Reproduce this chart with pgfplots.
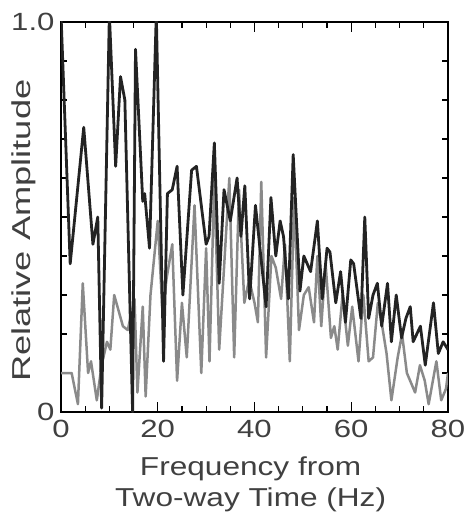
\documentclass[border=0pt]{standalone}
\usepackage{pgfplots}
\pgfplotsset{compat=1.18}
\usepackage{fontspec}
\setmainfont{Liberation Sans}

\definecolor{darkline}{HTML}{232323}
\definecolor{grayline}{HTML}{8A8A8A}
\newcommand{\wide}[1]{\scalebox{1.25}[1]{#1}}

\begin{document}
\begin{tikzpicture}
\begin{axis}[
    at={(0,0)}, anchor=south west,
    scale only axis, width=387bp, height=390bp,
    xmin=0, xmax=80, ymin=0, ymax=1,
    xtick={0,20,...,80},
    xticklabels={\wide{0},\wide{20},\wide{40},\wide{60},\wide{80}},
    minor xtick={5,10,...,75},
    ytick={0,1}, yticklabels={\wide{0},\wide{1.0}},
    minor ytick={0.1,0.2,...,0.9},
    tick align=inside,
    major tick length=10bp, minor tick length=6bp,
    tick style={black, line width=1.2bp},
    axis line style={line width=1.8bp},
    tick label style={font=\fontsize{25}{30}\selectfont, text=black!75},
    xticklabel style={yshift=-5bp},
    yticklabel style={xshift=-3bp},
    xlabel={\scalebox{1.22}[1]{Frequency from}\\\scalebox{1.22}[1]{Two-way Time (Hz)}},
    xlabel style={align=center, font=\fontsize{26}{31}\selectfont, text=black!75,
        at={(axis description cs:0.49,-0.186)}, anchor=center},
    ylabel={\scalebox{1.4}[1]{Relative Amplitude}},
    ylabel style={font=\fontsize{26}{31}\selectfont, text=black!75,
        at={(axis description cs:-0.097,0.465)}, anchor=center},
]

% serie clara (cinza)
\addplot[grayline, line width=2.5bp, line join=round] coordinates {
    (0,0.10) (2.2,0.10) (3.5,0.02) (4.5,0.33) (5.6,0.10) (6.2,0.13)
    (6.8,0.08) (7.4,0.03) (8.4,0.12) (9.5,0.18) (10.2,0.16) (11,0.30)
    (12.8,0.22) (13.8,0.21) (15.2,0.29) (15.8,0.05) (16.9,0.27) (17.5,0.04)
    (18.5,0.30) (20,0.49) (21,0.25) (21.8,0.34) (23,0.43) (24,0.08)
    (25,0.28) (26,0.14) (27.6,0.53) (29,0.10) (30,0.42) (30.7,0.13)
    (31.7,0.60) (32.7,0.16) (34.8,0.60) (35.8,0.14) (36.8,0.57) (37.9,0.28)
    (38.9,0.34) (40,0.28) (40.7,0.23) (41.4,0.59) (42.4,0.14) (43.5,0.40)
    (44.4,0.37) (45.5,0.29) (46.3,0.43) (47.3,0.13) (48.2,0.55) (49.2,0.21)
    (50.2,0.30) (51.2,0.32) (52.3,0.23) (53,0.40) (53.8,0.22) (54.7,0.38)
    (55.8,0.19) (56.5,0.22) (57.2,0.16) (58.2,0.30) (59.3,0.17) (60.2,0.27)
    (61.5,0.13) (62.5,0.30) (63.6,0.13) (64.5,0.14) (65.5,0.28) (66.4,0.22)
    (67.3,0.15) (68.3,0.03) (69.6,0.14) (70.5,0.20) (71.5,0.10) (73.2,0.05)
    (74.2,0.12) (75.2,0.08) (76,0.02) (77.6,0.13) (78.6,0.03) (79.6,0.06)
    (80,0.10)
};

% serie escura
\addplot[darkline, line width=2.8bp, line join=round] coordinates {
    (0,1.02) (1.9,0.38) (4.7,0.73) (6.6,0.43) (7.6,0.50) (8.4,0.01)
    (10,1.02) (11.3,0.63) (12.3,0.86) (13.2,0.80) (14.8,0.0) (15.4,0.93)
    (16.9,0.54) (17.3,0.56) (18.3,0.42) (19.7,1.02) (21.2,0.13) (22,0.56)
    (23,0.57) (24,0.63) (25.2,0.30) (27,0.62) (28,0.63) (30,0.43)
    (30.6,0.45) (31.7,0.69) (32.7,0.33) (33.7,0.57) (35,0.49) (36.4,0.60)
    (37.2,0.45) (38,0.58) (39,0.29) (40.2,0.53) (42.4,0.27) (43.4,0.55)
    (44.4,0.40) (45.3,0.49) (46,0.45) (47,0.29) (48,0.66) (49.4,0.31)
    (50.2,0.40) (51.6,0.36) (53,0.49) (54,0.29) (55,0.42) (55.6,0.41)
    (56.8,0.28) (57.8,0.36) (58.8,0.23) (59.9,0.39) (60.5,0.38) (62,0.24)
    (62.8,0.50) (63.6,0.24) (64.5,0.30) (65.4,0.33) (66.3,0.22) (67.5,0.33)
    (68.3,0.18) (69.3,0.30) (70.4,0.19) (71.3,0.24) (72.2,0.27) (72.8,0.18)
    (74.3,0.22) (75.3,0.12) (77,0.28) (78,0.15) (79,0.18) (80,0.16)
};

\end{axis}
\pgfresetboundingbox
\path (-61bp,-107bp) rectangle (408bp,412bp);
\end{tikzpicture}
\end{document}
